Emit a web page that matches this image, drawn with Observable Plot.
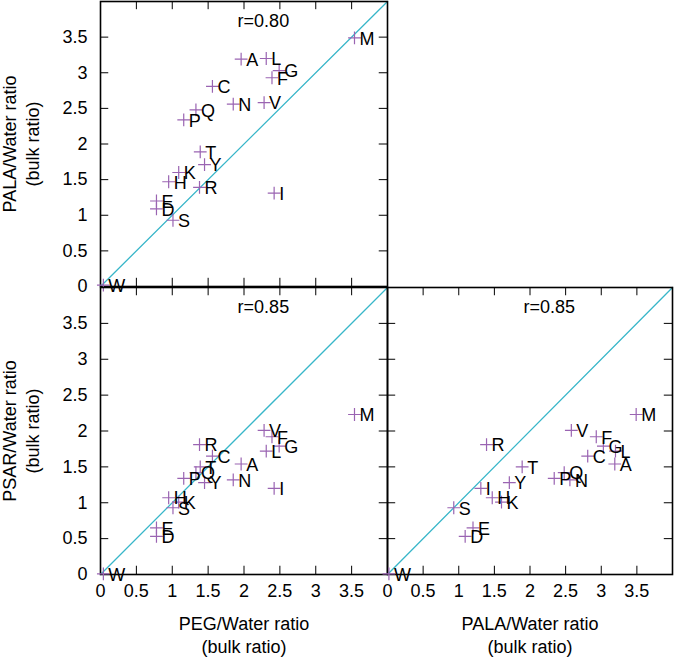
<!DOCTYPE html>
<html>
<head>
<meta charset="utf-8">
<script src="https://cdn.jsdelivr.net/npm/d3@7"></script>
<script src="https://cdn.jsdelivr.net/npm/@observablehq/plot@0.6"></script>
<style>
  html, body { margin: 0; padding: 0; background: white; }
  #wrap { position: relative; width: 675px; height: 657px; }
  #wrap > svg { position: absolute; left: 0; top: 0; }
</style>
</head>
<body>
<div id="wrap"></div>
<script>
// Amino acid one-letter codes
const residues = ["A","C","D","E","F","G","H","I","K","L","M","N","P","Q","R","S","T","V","W","Y"];
// PEG/Water bulk ratio
const pegRatio  = [1.96,1.56,0.78,0.78,2.39,2.49,0.95,2.42,1.09,2.31,3.54,1.85,1.16,1.33,1.38,1.01,1.39,2.28,0.04,1.45];
// PALA/Water bulk ratio
const palaRatio = [3.19,2.81,1.09,1.20,2.93,3.03,1.47,1.31,1.60,3.20,3.49,2.56,2.34,2.48,1.39,0.93,1.89,2.58,0.02,1.71];
// PSAR/Water bulk ratio
const psarRatio = [1.54,1.65,0.53,0.65,1.92,1.79,1.07,1.20,1.01,1.72,2.23,1.32,1.34,1.42,1.81,0.93,1.50,2.01,0.01,1.28];
// Correlation coefficients per panel
const rTopLeft = "r=0.80";
const rBottomLeft = "r=0.85";
const rBottomRight = "r=0.85";
// Tick values and identity line extent
const tickValues = [0, 0.5, 1, 1.5, 2, 2.5, 3, 3.5];
const diagonal = [0, 4];

const table = residues.map((k, i) => ({k, peg: pegRatio[i], pala: palaRatio[i], psar: psarRatio[i]}));

const FONT = "'Liberation Sans', Arial, Helvetica, sans-serif";
const FS = 18;
const POINT = "#9a64b2";
const LINE = "#38b6c9";
const TL = 0.115; // inward tick length in data units (~8px)

function panel({xKey, yKey, rText, margins, xLabel, yLabel}) {
  const marks = [
    Plot.line(diagonal, {x: d => d, y: d => d, stroke: LINE, strokeWidth: 1.3}),
    // inward ticks on all four sides
    Plot.ruleX(tickValues, {x: d => d, y1: 0, y2: TL, stroke: "black", strokeWidth: 1}),
    Plot.ruleX(tickValues, {x: d => d, y1: 4, y2: 4 - TL, stroke: "black", strokeWidth: 1}),
    Plot.ruleY(tickValues, {y: d => d, x1: 0, x2: TL, stroke: "black", strokeWidth: 1}),
    Plot.ruleY(tickValues, {y: d => d, x1: 4, x2: 4 - TL, stroke: "black", strokeWidth: 1}),
    Plot.frame({stroke: "black", strokeWidth: 1.6}),
    Plot.dot(table, {x: xKey, y: yKey, symbol: "plus", r: 4.2, stroke: POINT, strokeWidth: 1.2}),
    Plot.text(table, {x: xKey, y: yKey, text: "k", dx: 5, dy: 1, textAnchor: "start", fontSize: FS, fill: "black"}),
    Plot.text([rText], {x: 2.27, y: 3.72, text: d => d, fontSize: FS, fill: "black"})
  ];
  if (xLabel) {
    marks.push(Plot.axisX({ticks: tickValues, tickSize: 0, tickPadding: 10, fontSize: FS, tickFormat: d => String(d), label: null}));
    marks.push(Plot.text([xLabel], {frameAnchor: "bottom", text: d => d, dy: 39, textAnchor: "middle", lineAnchor: "top", lineHeight: 1.28, fontSize: FS, fill: "black"}));
  }
  if (yLabel) {
    marks.push(Plot.axisY({ticks: tickValues, tickSize: 0, tickPadding: 13, fontSize: FS, tickFormat: d => String(d), label: null}));
    marks.push(Plot.text([yLabel], {frameAnchor: "left", text: d => d, rotate: -90, dx: -80, textAnchor: "middle", lineAnchor: "middle", lineHeight: 1.28, fontSize: FS, fill: "black"}));
  }
  return Plot.plot({
    width: 675,
    height: 657,
    ...margins,
    style: {background: "transparent", fontFamily: FONT, fontSize: FS + "px", overflow: "visible", maxWidth: "none"},
    x: {domain: [0, 4], axis: null},
    y: {domain: [0, 4], axis: null},
    marks
  });
}

const wrap = document.getElementById("wrap");
wrap.appendChild(panel({
  xKey: "peg", yKey: "pala", rText: rTopLeft,
  margins: {marginLeft: 100, marginRight: 288, marginTop: 1, marginBottom: 371},
  yLabel: "PALA/Water ratio\n(bulk ratio)"
}));
wrap.appendChild(panel({
  xKey: "peg", yKey: "psar", rText: rBottomLeft,
  margins: {marginLeft: 100, marginRight: 288, marginTop: 287, marginBottom: 83},
  xLabel: "PEG/Water ratio\n(bulk ratio)",
  yLabel: "PSAR/Water ratio\n(bulk ratio)"
}));
wrap.appendChild(panel({
  xKey: "pala", yKey: "psar", rText: rBottomRight,
  margins: {marginLeft: 387, marginRight: 3, marginTop: 287, marginBottom: 83},
  xLabel: "PALA/Water ratio\n(bulk ratio)"
}));
</script>
</body>
</html>
